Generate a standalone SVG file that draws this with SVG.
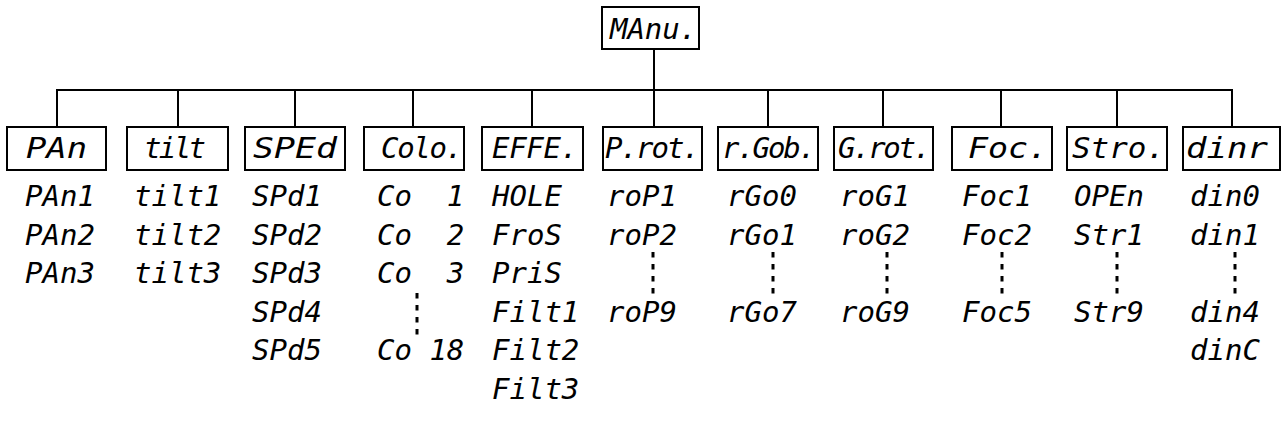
<svg xmlns="http://www.w3.org/2000/svg" width="1286" height="435" viewBox="0 0 1286 435">
<style>
  .box{fill:#fff;stroke:#000;stroke-width:2}
  .ln{stroke:#000;stroke-width:2;fill:none}
  .dot{stroke:#000;stroke-width:3;stroke-dasharray:5.5 6.5;fill:none}
  text{font-family:"DejaVu Sans Mono","Liberation Mono",monospace;font-style:oblique;font-size:29px;fill:#000;white-space:pre}
</style>
<rect width="1286" height="435" fill="#fff"/>
<g id="connectors">
  <path class="ln" d="M654 49V90M56 90H1233M57 90V127M178 90V127M295 90V127M413 90V127M532 90V127M654 90V127M768 90V127M883 90V127M1001 90V127M1117 90V127M1232 90V127"/>
  <path class="dot" d="M417 293V335M653 252V294M773 252V294M887 252V294M1002 252V294M1117 252V294M1235 252V294"/>
</g>
<g id="n-manu"><rect class="box" x="602" y="7" width="97" height="42"/><text x="610" y="39" textLength="87" lengthAdjust="spacing">MAnu.</text></g>
<g id="n-pan"><rect class="box" x="7" y="127" width="99" height="43"/><text x="26" y="158" textLength="61" lengthAdjust="spacingAndGlyphs">PAn</text>
  <text x="25" y="206">PAn1</text><text x="25" y="244.5">PAn2</text><text x="25" y="283">PAn3</text></g>
<g id="n-tilt"><rect class="box" x="127" y="127" width="101" height="43"/><text x="144" y="158" textLength="62" lengthAdjust="spacing">tilt</text>
  <text x="134" y="206">tilt1</text><text x="134" y="244.5">tilt2</text><text x="134" y="283">tilt3</text></g>
<g id="n-sped"><rect class="box" x="245" y="127" width="100" height="43"/><text x="253" y="158" textLength="84" lengthAdjust="spacingAndGlyphs">SPEd</text>
  <text x="252" y="206">SPd1</text><text x="252" y="244.5">SPd2</text><text x="252" y="283">SPd3</text><text x="252" y="321.5">SPd4</text><text x="252" y="360">SPd5</text></g>
<g id="n-colo"><rect class="box" x="364" y="127" width="100" height="43"/><text x="381" y="158" textLength="82" lengthAdjust="spacing">Colo.</text>
  <text x="377" y="206">Co  1</text><text x="377" y="244.5">Co  2</text><text x="377" y="283">Co  3</text><text x="377" y="360">Co 18</text></g>
<g id="n-effe"><rect class="box" x="482" y="127" width="101" height="43"/><text x="492" y="158" textLength="86" lengthAdjust="spacing">EFFE.</text>
  <text x="492" y="206">HOLE</text><text x="492" y="244.5">FroS</text><text x="492" y="283">PriS</text><text x="492" y="321.5">Filt1</text><text x="492" y="360">Filt2</text><text x="492" y="398.5">Filt3</text></g>
<g id="n-prot"><rect class="box" x="603" y="127" width="99" height="43"/><text x="605" y="158" textLength="95" lengthAdjust="spacing">P.rot.</text>
  <text x="607" y="206">roP1</text><text x="607" y="244.5">roP2</text><text x="607" y="321.5">roP9</text></g>
<g id="n-rgob"><rect class="box" x="718" y="127" width="100" height="43"/><text x="722" y="158" textLength="94" lengthAdjust="spacing">r.Gob.</text>
  <text x="727" y="206">rGo0</text><text x="727" y="244.5">rGo1</text><text x="727" y="321.5">rGo7</text></g>
<g id="n-grot"><rect class="box" x="834" y="127" width="99" height="43"/><text x="838" y="158" textLength="93" lengthAdjust="spacing">G.rot.</text>
  <text x="840" y="206">roG1</text><text x="840" y="244.5">roG2</text><text x="840" y="321.5">roG9</text></g>
<g id="n-foc"><rect class="box" x="952" y="127" width="100" height="43"/><text x="968" y="158" textLength="80" lengthAdjust="spacingAndGlyphs">Foc.</text>
  <text x="962" y="206">Foc1</text><text x="962" y="244.5">Foc2</text><text x="962" y="321.5">Foc5</text></g>
<g id="n-stro"><rect class="box" x="1067" y="127" width="100" height="43"/><text x="1072" y="158" textLength="93" lengthAdjust="spacingAndGlyphs">Stro.</text>
  <text x="1074" y="206">OPEn</text><text x="1074" y="244.5">Str1</text><text x="1074" y="321.5">Str9</text></g>
<g id="n-dinr"><rect class="box" x="1183" y="127" width="97" height="43"/><text x="1186" y="158" textLength="82" lengthAdjust="spacingAndGlyphs">dinr</text>
  <text x="1190" y="206">din0</text><text x="1190" y="244.5">din1</text><text x="1190" y="321.5">din4</text><text x="1190" y="360">dinC</text></g>
</svg>
